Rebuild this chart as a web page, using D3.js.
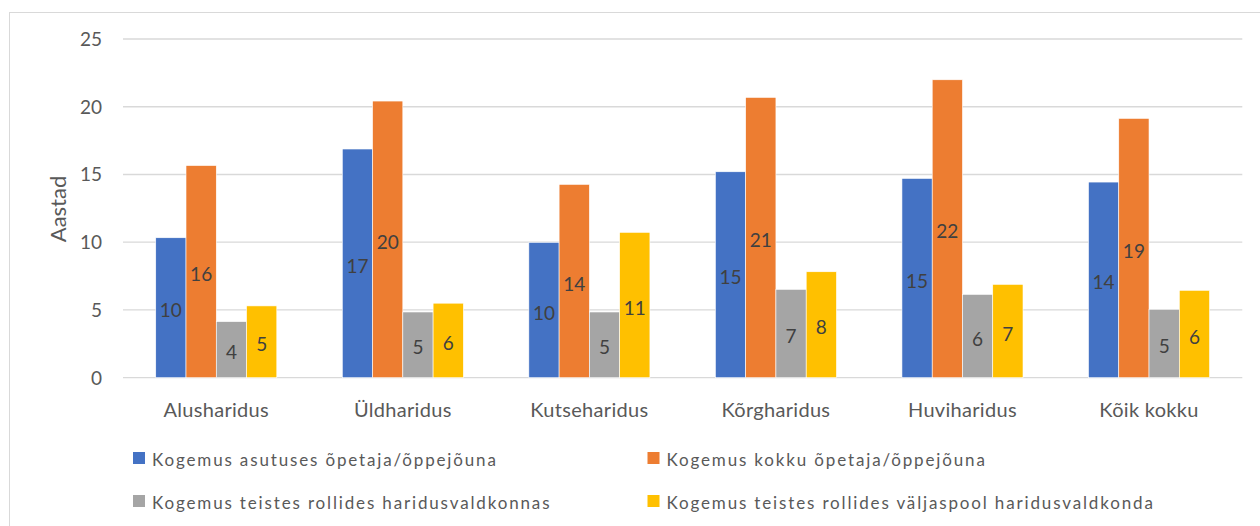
<!DOCTYPE html>
<html>
<head>
<meta charset="utf-8">
<script src="https://cdn.jsdelivr.net/npm/d3@7"></script>
<style>
  html, body { margin: 0; padding: 0; background: #fff; }
  svg { display: block; }
  text { font-family: Lato, "Open Sans", sans-serif; }
</style>
</head>
<body>
<svg id="chart" width="1260" height="526"></svg>
<script>
const categories = ["Alusharidus", "Üldharidus", "Kutseharidus", "Kõrgharidus", "Huviharidus", "Kõik kokku"];
const seriesNames = [
  "Kogemus asutuses õpetaja/õppejõuna",
  "Kogemus kokku õpetaja/õppejõuna",
  "Kogemus teistes rollides haridusvaldkonnas",
  "Kogemus teistes rollides väljaspool haridusvaldkonda"
];
const asutusesValues = [10.33, 16.88, 9.99, 15.2, 14.71, 14.44];
const kokkuValues = [15.66, 20.42, 14.27, 20.69, 21.99, 19.14];
const haridusValues = [4.14, 4.85, 4.85, 6.52, 6.15, 5.05];
const valjaspoolValues = [5.30, 5.5, 10.73, 7.82, 6.89, 6.45];
const yTicks = [0, 5, 10, 15, 20, 25];
const colors = ["#4472C4", "#ED7D31", "#A5A5A5", "#FFC000"];
const axisTitle = "Aastad";

const seriesValues = [asutusesValues, kokkuValues, haridusValues, valjaspoolValues];

(function () {
const svg = d3.select("#chart");

// chart border
svg.append("rect")
  .attr("x", 9.5).attr("y", 12.5)
  .attr("width", 1270).attr("height", 540)
  .attr("fill", "none").attr("stroke", "#d9d9d9").attr("stroke-width", 1);

const pLeft = 123, pRight = 1242.3, pTop = 39, pBottom = 377.7;

const y = d3.scaleLinear().domain([0, 25]).range([pBottom, pTop]);
const x0 = d3.scaleBand().domain(categories).range([pLeft, pRight]).paddingInner(0.351).paddingOuter(0.1755);
const x1 = d3.scaleBand().domain(d3.range(seriesNames.length)).range([0, x0.bandwidth()]);

// gridlines
svg.append("g").selectAll("line").data(yTicks).join("line")
  .attr("x1", pLeft).attr("x2", pRight)
  .attr("y1", d => y(d)).attr("y2", d => y(d))
  .attr("stroke", "#d9d9d9").attr("stroke-width", 1.3);

// y tick labels
svg.append("g").selectAll("text").data(yTicks).join("text")
  .attr("x", 102).attr("y", d => y(d))
  .attr("dy", "0.36em")
  .attr("text-anchor", "end")
  .attr("font-size", 19).attr("fill", "#595959")
  .text(d => d);

// axis title
svg.append("text")
  .attr("transform", `translate(66,${209}) rotate(-90)`)
  .attr("text-anchor", "middle")
  .attr("font-size", 22).attr("fill", "#595959")
  .text(axisTitle);

// bars
const rows = [];
categories.forEach((c, ci) => {
  seriesValues.forEach((vals, si) => rows.push({ c, si, v: vals[ci] }));
});

svg.append("g").selectAll("rect").data(rows).join("rect")
  .attr("x", d => x0(d.c) + x1(d.si))
  .attr("y", d => y(d.v))
  .attr("width", x1.bandwidth())
  .attr("height", d => y(0) - y(d.v))
  .attr("fill", d => colors[d.si])
  .attr("stroke", "#ffffff").attr("stroke-width", 0.6);

// data labels
svg.append("g").selectAll("text").data(rows).join("text")
  .attr("x", d => x0(d.c) + x1(d.si) + x1.bandwidth() / 2)
  .attr("y", d => (y(d.v) + y(0)) / 2)
  .attr("dy", "0.5em")
  .attr("text-anchor", "middle")
  .attr("font-size", 19).attr("fill", "#404040")
  .text(d => Math.round(d.v));

// category labels
svg.append("g").selectAll("text").data(categories).join("text")
  .attr("x", d => x0(d) + x0.bandwidth() / 2)
  .attr("y", 417)
  .attr("text-anchor", "middle")
  .attr("font-size", 20).attr("letter-spacing", 0.3).attr("fill", "#595959")
  .text(d => d);

// legend
const legendPos = [
  { x: 133, y: 452 }, { x: 647.5, y: 452 },
  { x: 133, y: 495 }, { x: 647.5, y: 495 }
];
const legend = svg.append("g").selectAll("g").data(seriesNames).join("g")
  .attr("transform", (d, i) => `translate(${legendPos[i].x},${legendPos[i].y})`);
legend.append("rect")
  .attr("width", 12).attr("height", 12)
  .attr("fill", (d, i) => colors[i]);
legend.append("text")
  .attr("x", 19).attr("y", 13.5)
  .attr("font-size", 17).attr("letter-spacing", 1.85).attr("fill", "#595959")
  .text(d => d);
})();
</script>
</body>
</html>
